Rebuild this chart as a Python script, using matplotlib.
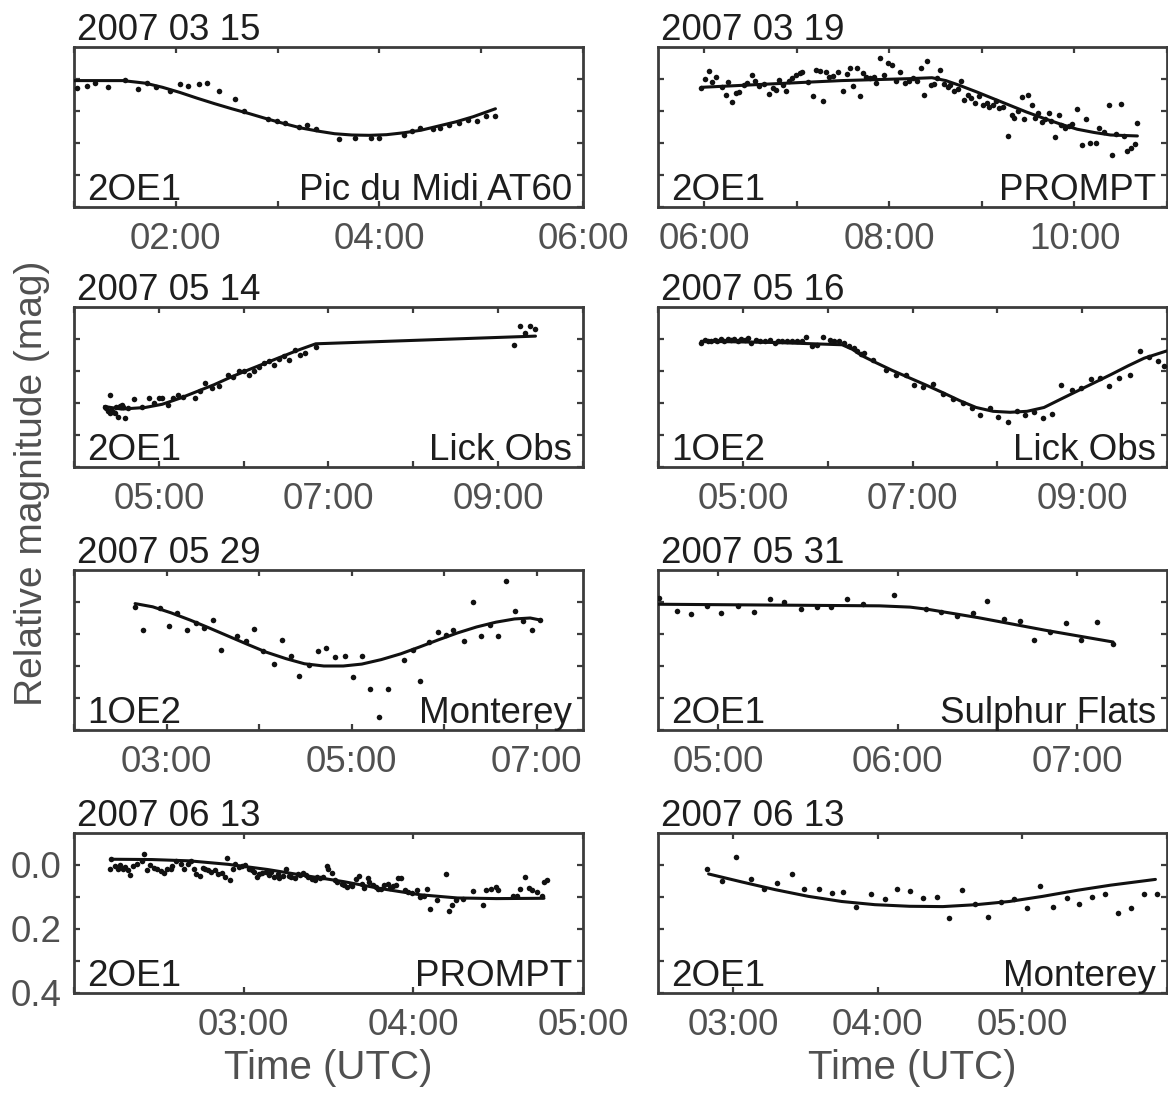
import matplotlib
matplotlib.use('Agg')
import matplotlib.pyplot as plt

plt.rcParams['font.family'] = ['Liberation Sans', 'DejaVu Sans']

# ---------------- data ----------------
dates = ["2007 03 15", "2007 03 19", "2007 05 14", "2007 05 16",
         "2007 05 29", "2007 05 31", "2007 06 13", "2007 06 13"]
pair_labels = ["2OE1", "2OE1", "2OE1", "1OE2", "1OE2", "2OE1", "2OE1", "2OE1"]
stations = ["Pic du Midi AT60", "PROMPT", "Lick Obs", "Lick Obs",
            "Monterey", "Sulphur Flats", "PROMPT", "Monterey"]
x_ranges = [(1.0, 6.0), (5.5, 11.0), (4.0, 10.0), (4.0, 10.0),
            (2.0, 7.5), (4.6667, 7.5), (2.0, 5.0), (2.48, 6.0)]
labelled_hours = [[2, 4, 6], [6, 8, 10], [5, 7, 9], [5, 7, 9],
                  [3, 5, 7], [5, 6, 7], [3, 4, 5], [3, 4, 5]]
ytick_vals = [0.0, 0.1, 0.2, 0.3, 0.4]
ytick_labels = ["0.0", "", "0.2", "", "0.4"]

# Panel 1: 2007 03 15, Pic du Midi AT60
p1_t = [1.03, 1.13, 1.21, 1.33, 1.50, 1.63, 1.72, 1.81, 1.94, 2.04, 2.12, 2.23, 2.31, 2.42,
        2.58, 2.67, 2.91, 2.99, 3.07, 3.21, 3.29, 3.38, 3.60, 3.76, 3.92, 4.00, 4.24, 4.32,
        4.40, 4.53, 4.60, 4.68, 4.78, 4.87, 4.96, 5.05, 5.14]
p1_m = [0.029, 0.023, 0.013, 0.024, 0.002, 0.032, 0.011, 0.026, 0.037, 0.016, 0.023, 0.016,
        0.013, 0.038, 0.063, 0.100, 0.124, 0.132, 0.137, 0.149, 0.145, 0.156, 0.189, 0.184,
        0.184, 0.184, 0.174, 0.163, 0.153, 0.156, 0.153, 0.145, 0.137, 0.128, 0.132, 0.116,
        0.116]
p1_fit_t = [1.0, 1.48, 1.70, 1.87, 2.04, 2.21, 2.38, 2.55, 2.72, 2.89, 3.06, 3.23, 3.40, 3.56,
            3.73, 3.90, 4.07, 4.24, 4.41, 4.58, 4.75, 4.92, 5.14]
p1_fit_m = [0.005, 0.005, 0.013, 0.026, 0.042, 0.060, 0.077, 0.093, 0.108, 0.124, 0.139, 0.153,
            0.163, 0.171, 0.175, 0.176, 0.174, 0.168, 0.160, 0.147, 0.134, 0.118, 0.093]

# Panel 2: 2007 03 19, PROMPT
p2_t = [5.97, 6.01, 6.05, 6.08, 6.13, 6.19, 6.24, 6.26, 6.30, 6.34, 6.37, 6.43, 6.46, 6.52,
        6.55, 6.59, 6.65, 6.70, 6.74, 6.77, 6.81, 6.85, 6.88, 6.92, 6.95, 6.99, 7.03, 7.06,
        7.12, 7.17, 7.21, 7.25, 7.28, 7.32, 7.35, 7.39, 7.45, 7.50, 7.54, 7.57, 7.61, 7.65,
        7.68, 7.72, 7.75, 7.79, 7.83, 7.86, 7.90, 7.94, 7.99, 8.03, 8.07, 8.12, 8.17, 8.21,
        8.26, 8.30, 8.34, 8.37, 8.41, 8.45, 8.48, 8.52, 8.55, 8.59, 8.63, 8.66, 8.70, 8.74,
        8.77, 8.81, 8.85, 8.88, 8.92, 8.97, 9.01, 9.05, 9.08, 9.12, 9.15, 9.19, 9.23, 9.28,
        9.32, 9.35, 9.39, 9.43, 9.46, 9.50, 9.54, 9.57, 9.61, 9.65, 9.68, 9.72, 9.75, 9.79,
        9.83, 9.86, 9.90, 9.94, 9.97, 10.03, 10.08, 10.12, 10.17, 10.23, 10.26, 10.32, 10.37,
        10.41, 10.45, 10.50, 10.54, 10.57, 10.61, 10.65, 10.68]
p2_m = [0.028, -0.001, -0.025, 0.009, -0.006, 0.026, 0.049, 0.009, 0.072, 0.044, 0.040, 0.019,
        0.012, -0.012, 0.005, 0.023, 0.015, 0.047, 0.028, 0.033, 0.002, 0.019, 0.036, 0.007,
        -0.004, -0.012, -0.019, -0.022, 0.009, 0.054, -0.027, -0.025, 0.068, -0.022, -0.006,
        -0.009, -0.022, 0.036, -0.016, -0.033, 0.023, -0.033, 0.054, -0.019, -0.006, -0.004,
        -0.006, 0.012, -0.066, -0.012, -0.051, -0.045, 0.007, -0.022, 0.012, 0.005, -0.004,
        0.007, -0.033, 0.051, -0.056, 0.019, 0.015, -0.004, -0.027, 0.015, 0.026, 0.019,
        0.038, 0.030, 0.007, 0.065, 0.051, 0.059, 0.075, 0.054, 0.080, 0.075, 0.086, 0.080,
        0.070, 0.091, 0.086, 0.177, 0.114, 0.122, 0.099, 0.057, 0.124, 0.049, 0.082, 0.122,
        0.106, 0.133, 0.124, 0.106, 0.131, 0.180, 0.114, 0.145, 0.154, 0.148, 0.141, 0.093,
        0.206, 0.124, 0.201, 0.201, 0.154, 0.166, 0.080, 0.238, 0.173, 0.078, 0.177, 0.225,
        0.217, 0.204, 0.136]
p2_fit_t = [5.97, 6.75, 7.48, 8.21, 8.46, 8.61, 8.75, 8.94, 9.12, 9.30, 9.48, 9.66, 9.85,
            10.03, 10.21, 10.39, 10.68]
p2_fit_m = [0.026, 0.015, 0.005, -0.001, -0.004, 0.005, 0.019, 0.040, 0.061, 0.082, 0.103,
            0.122, 0.141, 0.157, 0.167, 0.175, 0.178]

# Panel 3: 2007 05 14, Lick Obs
p3_t = [4.36, 4.38, 4.40, 4.43, 4.42, 4.44, 4.46, 4.48, 4.50, 4.52, 4.54, 4.56, 4.58, 4.60,
        4.64, 4.71, 4.80, 4.88, 4.94, 5.00, 5.04, 5.11, 5.17, 5.23, 5.29, 5.43, 5.49, 5.55,
        5.63, 5.71, 5.81, 5.87, 5.94, 6.00, 6.06, 6.12, 6.18, 6.24, 6.30, 6.36, 6.42, 6.48,
        6.54, 6.60, 6.66, 6.72, 6.85, 9.19, 9.26, 9.32, 9.38, 9.44]
p3_m = [0.211, 0.217, 0.225, 0.175, 0.232, 0.222, 0.227, 0.232, 0.214, 0.243, 0.208, 0.206,
        0.211, 0.248, 0.217, 0.187, 0.211, 0.183, 0.201, 0.183, 0.185, 0.206, 0.183, 0.175,
        0.180, 0.185, 0.162, 0.138, 0.152, 0.148, 0.112, 0.120, 0.099, 0.099, 0.112, 0.101,
        0.086, 0.075, 0.070, 0.082, 0.061, 0.054, 0.065, 0.033, 0.051, 0.044, 0.026, 0.019,
        -0.042, -0.019, -0.040, -0.030]
p3_fit_t = [4.36, 4.56, 4.84, 5.04, 5.25, 5.45, 5.65, 5.85, 6.06, 6.26, 6.46, 6.66, 6.85, 9.44]
p3_fit_m = [0.211, 0.219, 0.214, 0.204, 0.185, 0.164, 0.143, 0.119, 0.096, 0.075, 0.054,
            0.033, 0.015, -0.009]

# Panel 4: 2007 05 16, Lick Obs
p4_t = [4.51, 4.55, 4.59, 4.63, 4.67, 4.70, 4.74, 4.78, 4.82, 4.86, 4.90, 4.94, 4.98, 5.02,
        5.06, 5.10, 5.16, 5.20, 5.26, 5.32, 5.38, 5.42, 5.46, 5.52, 5.58, 5.64, 5.70, 5.75,
        5.81, 5.87, 5.95, 6.03, 6.07, 6.13, 6.19, 6.25, 6.31, 6.35, 6.39, 6.43, 6.53, 6.69,
        6.80, 6.92, 7.02, 7.12, 7.24, 7.36, 7.48, 7.60, 7.70, 7.80, 7.91, 8.01, 8.12, 8.23,
        8.33, 8.43, 8.54, 8.65, 8.75, 8.88, 8.99, 9.10, 9.21, 9.32, 9.44, 9.56, 9.68, 9.79,
        9.89, 9.97]
p4_m = [0.011, 0.003, 0.007, 0.005, 0.003, 0.007, 0.001, 0.005, 0.000, 0.003, 0.000, 0.005,
        0.000, 0.003, -0.003, 0.014, 0.003, 0.005, 0.007, 0.003, 0.011, 0.007, 0.005, 0.007,
        0.005, 0.007, 0.005, -0.007, 0.021, 0.018, -0.007, 0.003, 0.005, 0.007, 0.011, 0.021,
        0.028, 0.039, 0.047, 0.045, 0.066, 0.098, 0.111, 0.113, 0.144, 0.151, 0.142, 0.172,
        0.189, 0.200, 0.216, 0.239, 0.216, 0.245, 0.260, 0.226, 0.239, 0.228, 0.247, 0.235,
        0.144, 0.158, 0.153, 0.126, 0.121, 0.147, 0.121, 0.113, 0.039, 0.056, 0.068, 0.084]
p4_fit_t = [4.51, 5.38, 6.17, 6.29, 6.41, 6.57, 6.76, 6.96, 7.16, 7.36, 7.56, 7.75, 7.95, 8.15,
            8.35, 8.55, 8.74, 8.94, 9.14, 9.34, 9.54, 9.73, 10.0]
p4_fit_m = [0.007, 0.011, 0.018, 0.032, 0.053, 0.074, 0.098, 0.121, 0.144, 0.168, 0.193, 0.214,
            0.226, 0.229, 0.226, 0.214, 0.189, 0.163, 0.137, 0.111, 0.084, 0.060, 0.037]

# Panel 5: 2007 05 29, Monterey
p5_t = [2.66, 2.75, 2.93, 3.03, 3.11, 3.22, 3.32, 3.40, 3.50, 3.59, 3.76, 3.86, 3.95, 4.04,
        4.16, 4.25, 4.34, 4.43, 4.54, 4.64, 4.72, 4.82, 4.93, 5.02, 5.11, 5.20, 5.30, 5.39,
        5.57, 5.66, 5.74, 5.84, 5.93, 6.02, 6.10, 6.21, 6.31, 6.40, 6.49, 6.58, 6.67, 6.77,
        6.85, 6.95, 7.04]
p5_m = [0.015, 0.089, 0.018, 0.074, 0.034, 0.086, 0.065, 0.081, 0.055, 0.149, 0.105, 0.123,
        0.084, 0.154, 0.194, 0.118, 0.168, 0.231, 0.196, 0.154, 0.144, 0.172, 0.168, 0.233,
        0.170, 0.272, 0.358, 0.272, 0.182, 0.149, 0.246, 0.126, 0.095, 0.102, 0.088, 0.123,
        0.000, 0.105, 0.071, 0.105, -0.065, 0.029, 0.060, 0.088, 0.057]
p5_fit_t = [2.66, 2.85, 3.05, 3.26, 3.46, 3.67, 3.88, 4.08, 4.29, 4.49, 4.70, 4.91, 5.11, 5.32,
            5.53, 5.73, 5.94, 6.14, 6.35, 6.56, 6.76, 6.93, 7.05]
p5_fit_m = [0.005, 0.015, 0.034, 0.057, 0.081, 0.107, 0.133, 0.157, 0.177, 0.193, 0.200, 0.200,
            0.194, 0.180, 0.162, 0.141, 0.118, 0.097, 0.078, 0.063, 0.053, 0.050, 0.057]

# Panel 6: 2007 05 31, Sulphur Flats
p6_t = [4.67, 4.77, 4.85, 4.94, 5.02, 5.11, 5.20, 5.29, 5.37, 5.46, 5.55, 5.63, 5.72, 5.81,
        5.98, 6.16, 6.24, 6.33, 6.42, 6.50, 6.59, 6.68, 6.76, 6.85, 6.94, 7.02, 7.11, 7.20]
p6_m = [-0.011, 0.029, 0.036, 0.013, 0.034, 0.013, 0.031, -0.009, -0.001, 0.023, 0.015, 0.017,
        -0.010, 0.005, -0.022, 0.023, 0.031, 0.043, 0.034, -0.003, 0.052, 0.059, 0.118, 0.094,
        0.065, 0.118, 0.064, 0.130]
p6_fit_t = [4.667, 5.90, 6.07, 6.17, 6.45, 6.82, 7.20]
p6_fit_m = [0.007, 0.012, 0.016, 0.023, 0.049, 0.088, 0.125]

# Panel 7: 2007 06 13, PROMPT
p7_t = [2.21, 2.22, 2.24, 2.26, 2.27, 2.29, 2.30, 2.32, 2.33, 2.35, 2.37, 2.40, 2.41, 2.43,
        2.45, 2.47, 2.49, 2.51, 2.53, 2.55, 2.57, 2.58, 2.60, 2.63, 2.65, 2.67, 2.69, 2.71,
        2.72, 2.74, 2.76, 2.77, 2.79, 2.81, 2.83, 2.85, 2.87, 2.89, 2.90, 2.92, 2.94, 2.95,
        2.97, 2.99, 3.01, 3.03, 3.05, 3.06, 3.08, 3.09, 3.11, 3.13, 3.15, 3.16, 3.18, 3.20,
        3.21, 3.23, 3.25, 3.27, 3.28, 3.30, 3.32, 3.33, 3.35, 3.37, 3.38, 3.40, 3.42, 3.43,
        3.45, 3.47, 3.49, 3.50, 3.52, 3.54, 3.55, 3.58, 3.59, 3.61, 3.63, 3.64, 3.66, 3.68,
        3.70, 3.71, 3.73, 3.74, 3.76, 3.78, 3.79, 3.81, 3.83, 3.85, 3.86, 3.88, 3.90, 3.91,
        3.93, 3.95, 3.97, 3.99, 4.02, 4.04, 4.06, 4.08, 4.10, 4.14, 4.19, 4.21, 4.23, 4.25,
        4.29, 4.35, 4.41, 4.43, 4.46, 4.49, 4.50, 4.59, 4.61, 4.63, 4.66, 4.68, 4.70, 4.73,
        4.76, 4.77, 4.79]
p7_m = [0.014, -0.018, 0.003, 0.011, 0.000, 0.014, 0.007, 0.017, 0.030, 0.003, -0.002, -0.013,
        -0.033, 0.017, 0.000, 0.009, 0.014, 0.020, 0.025, 0.011, 0.011, 0.003, -0.013, -0.004,
        0.011, -0.002, -0.011, 0.014, 0.028, 0.033, 0.009, 0.011, 0.017, 0.022, 0.017, 0.028,
        0.025, 0.036, -0.022, 0.047, 0.014, -0.004, 0.007, 0.003, 0.000, 0.011, 0.017, 0.022,
        0.036, 0.028, 0.025, 0.022, 0.030, 0.022, 0.036, 0.028, 0.041, 0.033, 0.014, 0.033,
        0.036, 0.041, 0.028, 0.030, 0.025, 0.030, 0.036, 0.043, 0.047, 0.036, 0.041, 0.036,
        0.003, 0.014, 0.025, 0.047, 0.052, 0.058, 0.061, 0.068, 0.063, 0.065, 0.043, 0.033,
        0.058, 0.072, 0.041, 0.054, 0.061, 0.068, 0.076, 0.074, 0.063, 0.058, 0.072, 0.065,
        0.061, 0.041, 0.041, 0.079, 0.085, 0.087, 0.079, 0.101, 0.098, 0.074, 0.137, 0.109,
        0.028, 0.145, 0.126, 0.109, 0.107, 0.082, 0.126, 0.079, 0.074, 0.068, 0.079, 0.096,
        0.098, 0.076, 0.036, 0.072, 0.079, 0.085, 0.096, 0.054, 0.047]
p7_fit_t = [2.22, 2.46, 2.68, 2.91, 3.14, 3.36, 3.59, 3.81, 4.04, 4.26, 4.49, 4.77]
p7_fit_m = [-0.018, -0.017, -0.013, -0.002, 0.014, 0.033, 0.052, 0.074, 0.093, 0.103, 0.105,
            0.104]

# Panel 8: 2007 06 13, Monterey
p8_t = [2.82, 2.92, 3.02, 3.12, 3.21, 3.30, 3.41, 3.49, 3.59, 3.68, 3.76, 3.85, 3.95, 4.05,
        4.13, 4.22, 4.31, 4.41, 4.49, 4.58, 4.67, 4.76, 4.85, 4.94, 5.03, 5.12, 5.21, 5.31,
        5.39, 5.48, 5.57, 5.66, 5.75, 5.84, 5.93]
p8_m = [0.013, 0.050, -0.025, 0.045, 0.074, 0.056, 0.028, 0.074, 0.074, 0.088, 0.085, 0.131,
        0.090, 0.106, 0.074, 0.082, 0.103, 0.101, 0.167, 0.079, 0.122, 0.163, 0.117, 0.106,
        0.133, 0.065, 0.130, 0.103, 0.122, 0.099, 0.092, 0.149, 0.135, 0.090, 0.090]
p8_fit_t = [2.83, 3.06, 3.29, 3.52, 3.75, 3.98, 4.22, 4.45, 4.68, 4.91, 5.14, 5.38, 5.61, 5.92]
p8_fit_m = [0.028, 0.053, 0.077, 0.098, 0.114, 0.124, 0.129, 0.130, 0.124, 0.114, 0.098, 0.079,
            0.063, 0.045]

dots_t = [p1_t, p2_t, p3_t, p4_t, p5_t, p6_t, p7_t, p8_t]
dots_m = [p1_m, p2_m, p3_m, p4_m, p5_m, p6_m, p7_m, p8_m]
fits_t = [p1_fit_t, p2_fit_t, p3_fit_t, p4_fit_t, p5_fit_t, p6_fit_t, p7_fit_t, p8_fit_t]
fits_m = [p1_fit_m, p2_fit_m, p3_fit_m, p4_fit_m, p5_fit_m, p6_fit_m, p7_fit_m, p8_fit_m]

# ---------------- layout ----------------
W, H = 1168, 1097
fig = plt.figure(figsize=(W / 100, H / 100), dpi=100)
fig.patch.set_facecolor('white')

col_left = [74, 658]
row_top = [47, 307, 570, 833]
box_w, box_h = 509, 160

spine_col = '#3c3c3c'
tick_col = '#505050'
text_col = '#1e1e1e'
fs = 26.5

for i in range(8):
    r, c = divmod(i, 2)
    x0 = col_left[c] / W
    y0 = 1 - (row_top[r] + box_h) / H
    ax = fig.add_axes([x0, y0, box_w / W, box_h / H])
    ax.plot(fits_t[i], fits_m[i], color='#111111', lw=2.2, zorder=3,
            solid_capstyle='round', solid_joinstyle='round')
    ax.plot(dots_t[i], dots_m[i], 'o', color='#111111', ms=4.0, mew=0, zorder=4)
    ax.set_xlim(*x_ranges[i])
    ax.set_ylim(0.4, -0.1)
    lo, hi = x_ranges[i]
    hours = [h for h in range(int(lo), int(hi) + 2) if lo - 1e-6 <= h <= hi + 1e-6]
    ax.set_xticks(hours)
    ax.set_xticklabels([f"{h:02d}:00" if h in labelled_hours[i] else "" for h in hours])
    ax.set_yticks(ytick_vals)
    if i == 6:
        ax.set_yticklabels(ytick_labels)
    else:
        ax.set_yticklabels([])
    ax.tick_params(axis='both', direction='in', top=True, right=True, length=4.5,
                   width=1.6, color=spine_col, labelsize=fs, labelcolor=tick_col)
    ax.tick_params(axis='x', pad=11)
    ax.tick_params(axis='y', pad=9)
    for s in ax.spines.values():
        s.set_color(spine_col)
        s.set_linewidth(2.0)
    ax.text(0.006, 1.045, dates[i], transform=ax.transAxes, ha='left', va='baseline',
            fontsize=fs, color=text_col)
    ax.text(0.026, 0.045, pair_labels[i], transform=ax.transAxes, ha='left', va='baseline',
            fontsize=fs, color=text_col)
    ax.text(0.978, 0.045, stations[i], transform=ax.transAxes, ha='right', va='baseline',
            fontsize=fs, color=text_col)
    if r == 3:
        ax.set_xlabel("Time (UTC)", fontsize=29, color=tick_col, labelpad=4)

fig.text(0.027, 1 - 483 / H, "Relative magnitude (mag)", rotation=90, ha='center',
         va='center', fontsize=28, color=tick_col)

fig.savefig("out.png", dpi=100, facecolor='white')
